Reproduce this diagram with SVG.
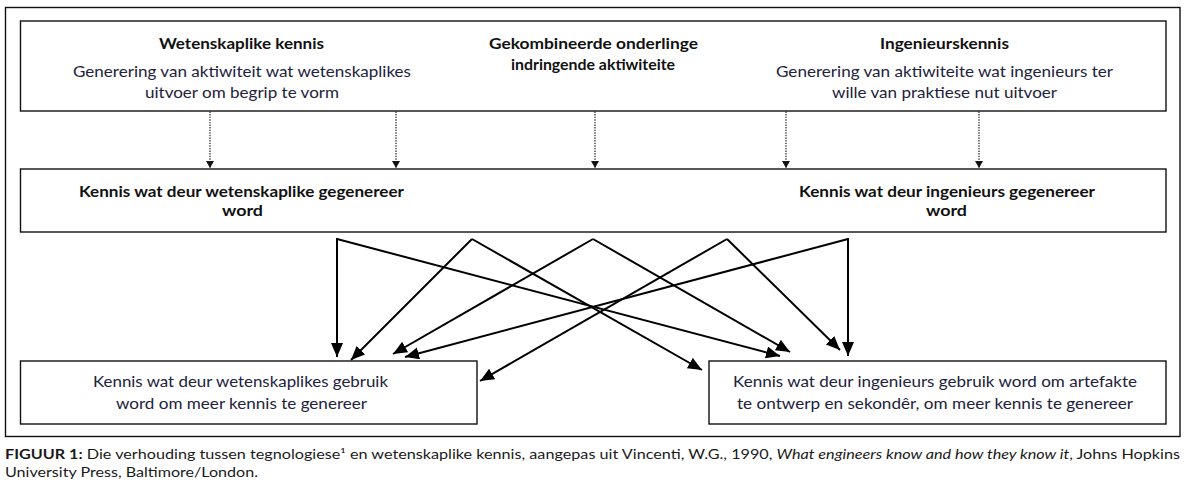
<svg xmlns="http://www.w3.org/2000/svg" width="1190" height="488" viewBox="0 0 1190 488">
  <defs>
    <style>
      .box { fill: #ffffff; stroke: #111111; stroke-width: 1.4; }
      .frame { fill: none; stroke: #111111; stroke-width: 1.4; }
      text { font-family: Lato, "Open Sans", "Liberation Sans", sans-serif; font-size: 15px; text-anchor: middle; }
      .b { font-weight: bold; fill: #111111; }
      .r { fill: #22223c; }
      .cap { font-size: 14px; text-anchor: start; fill: #1a1a1a; }
      .dot { stroke: #222222; stroke-width: 1.2; stroke-dasharray: 1.4 1.2; fill: none; }
      .sol { stroke: #000000; stroke-width: 2; fill: none; }
    </style>
    <marker id="ahDot" markerUnits="userSpaceOnUse" markerWidth="9" markerHeight="9" refX="7" refY="4" orient="auto">
      <path d="M0,0 L7,4 L0,8 z" fill="#111111"/>
    </marker>
    <marker id="ahSol" markerUnits="userSpaceOnUse" markerWidth="16" markerHeight="14" refX="14" refY="6" orient="auto">
      <path d="M0,0 L14,6 L0,12 z" fill="#000000"/>
    </marker>
  </defs>

  <rect width="1190" height="488" fill="#ffffff"/>
  <rect class="frame" x="5.5" y="7.5" width="1174.5" height="429"/>

  <g id="node-top">
    <rect class="box" x="20.5" y="21" width="1145.5" height="90"/>
    <text class="b" x="241.5" y="49" textLength="165" lengthAdjust="spacingAndGlyphs">Wetenskaplike kennis</text>
    <text class="r" x="242" y="77" textLength="338" lengthAdjust="spacingAndGlyphs">Generering van aktiwiteit wat wetenskaplikes</text>
    <text class="r" x="242" y="98" textLength="194" lengthAdjust="spacingAndGlyphs">uitvoer om begrip te vorm</text>
    <text class="b" x="593.5" y="49" textLength="209" lengthAdjust="spacingAndGlyphs">Gekombineerde onderlinge</text>
    <text class="b" x="593" y="70" textLength="164" lengthAdjust="spacingAndGlyphs">indringende aktiwiteite</text>
    <text class="b" x="944.5" y="49" textLength="129" lengthAdjust="spacingAndGlyphs">Ingenieurskennis</text>
    <text class="r" x="944.5" y="77" textLength="337" lengthAdjust="spacingAndGlyphs">Generering van aktiwiteite wat ingenieurs ter</text>
    <text class="r" x="944.5" y="98" textLength="225" lengthAdjust="spacingAndGlyphs">wille van praktiese nut uitvoer</text>
  </g>

  <g id="node-middle">
    <rect class="box" x="20.5" y="169" width="1145.5" height="63"/>
    <text class="b" x="241.5" y="197" textLength="325" lengthAdjust="spacingAndGlyphs">Kennis wat deur wetenskaplike gegenereer</text>
    <text class="b" x="242.5" y="216" textLength="41" lengthAdjust="spacingAndGlyphs">word</text>
    <text class="b" x="947" y="197" textLength="296" lengthAdjust="spacingAndGlyphs">Kennis wat deur ingenieurs gegenereer</text>
    <text class="b" x="946.5" y="216" textLength="41" lengthAdjust="spacingAndGlyphs">word</text>
  </g>

  <g id="node-bottom-left">
    <rect class="box" x="20.5" y="361" width="456.5" height="63"/>
    <text class="r" x="240.5" y="387" textLength="295" lengthAdjust="spacingAndGlyphs">Kennis wat deur wetenskaplikes gebruik</text>
    <text class="r" x="241.5" y="409" textLength="251" lengthAdjust="spacingAndGlyphs">word om meer kennis te genereer</text>
  </g>

  <g id="node-bottom-right">
    <rect class="box" x="709" y="361" width="457" height="63"/>
    <text class="r" x="935" y="387" textLength="404" lengthAdjust="spacingAndGlyphs">Kennis wat deur ingenieurs gebruik word om artefakte</text>
    <text class="r" x="935" y="409" textLength="396" lengthAdjust="spacingAndGlyphs">te ontwerp en sekondêr, om meer kennis te genereer</text>
  </g>

  <g id="connectors">
    <line class="dot" x1="210" y1="111.5" x2="210" y2="168" marker-end="url(#ahDot)"/>
    <line class="dot" x1="396" y1="111.5" x2="396" y2="168" marker-end="url(#ahDot)"/>
    <line class="dot" x1="595" y1="111.5" x2="595" y2="168" marker-end="url(#ahDot)"/>
    <line class="dot" x1="786" y1="111.5" x2="786" y2="168" marker-end="url(#ahDot)"/>
    <line class="dot" x1="979" y1="111.5" x2="979" y2="168" marker-end="url(#ahDot)"/>

    <line class="sol" x1="337" y1="239" x2="337" y2="357" marker-end="url(#ahSol)"/>
    <line class="sol" x1="337" y1="239" x2="780" y2="356" marker-end="url(#ahSol)"/>
    <line class="sol" x1="472" y1="239" x2="351" y2="360" marker-end="url(#ahSol)"/>
    <line class="sol" x1="472" y1="239" x2="702" y2="370" marker-end="url(#ahSol)"/>
    <line class="sol" x1="593" y1="239" x2="393" y2="354" marker-end="url(#ahSol)"/>
    <line class="sol" x1="593" y1="239" x2="790" y2="352" marker-end="url(#ahSol)"/>
    <line class="sol" x1="727" y1="239" x2="480" y2="381" marker-end="url(#ahSol)"/>
    <line class="sol" x1="727" y1="239" x2="840" y2="350" marker-end="url(#ahSol)"/>
    <line class="sol" x1="848" y1="239" x2="848" y2="356" marker-end="url(#ahSol)"/>
    <line class="sol" x1="848" y1="239" x2="405" y2="357" marker-end="url(#ahSol)"/>
    <line class="sol" x1="336" y1="239" x2="338" y2="239"/>
    <line class="sol" x1="847" y1="239" x2="849" y2="239"/>
  </g>

  <g id="caption">
    <text class="cap" x="5" y="459" textLength="1175" lengthAdjust="spacingAndGlyphs"><tspan font-weight="bold">FIGUUR 1:</tspan> Die verhouding tussen tegnologiese¹ en wetenskaplike kennis, aangepas uit Vincenti, W.G., 1990, <tspan font-style="italic">What engineers know and how they know it</tspan>, Johns Hopkins</text>
    <text class="cap" x="5" y="477" textLength="253" lengthAdjust="spacingAndGlyphs">University Press, Baltimore/London.</text>
  </g>
</svg>
